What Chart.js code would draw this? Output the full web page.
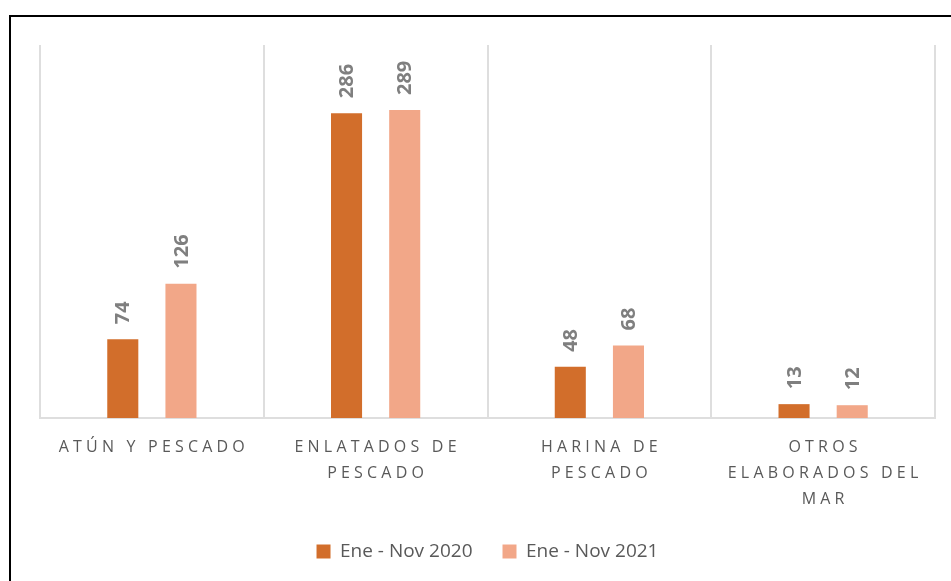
<!DOCTYPE html>
<html>
<head>
  <meta charset="utf-8">
  <title>Exportaciones</title>
  <script src="https://cdn.jsdelivr.net/npm/chart.js"></script>
  <style>
    body { margin: 0; background: #fff; }
    #frame { position: absolute; left: 9px; top: 15px; width: 960px; height: 600px;
             border-left: 2px solid #000; border-top: 2px solid #000; }
    #chart { position: absolute; left: 0; top: 0; }
  </style>
</head>
<body>
  <div id="frame"></div>
  <canvas id="chart" width="951" height="581"></canvas>

  <script>

const categories = [
  ['ATÚN Y PESCADO'],
  ['ENLATADOS DE', 'PESCADO'],
  ['HARINA DE', 'PESCADO'],
  ['OTROS', 'ELABORADOS DEL', 'MAR']
];
const series2020 = [74, 286, 48, 13];
const series2021 = [126, 289, 68, 12];
const seriesNames = ['Ene - Nov 2020', 'Ene - Nov 2021'];

// category labels drawn letter-spaced at the x scale tick positions
const spacedTicks = {
  id: 'spacedTicks',
  afterDraw(chart) {
    const ctx = chart.ctx;
    const xs = chart.scales.x;
    ctx.save();
    ctx.letterSpacing = '4.2px';
    ctx.font = '16px "Open Sans"';
    ctx.fillStyle = '#595959';
    ctx.textAlign = 'center';
    ctx.textBaseline = 'middle';
    categories.forEach((lines, i) => {
      const x = xs.getPixelForTick(i) + 2;
      lines.forEach((t, k) => ctx.fillText(t, x, chart.chartArea.bottom + 29 + k * 26));
    });
    ctx.restore();
  }
};

// rotated value labels above bars
const valueLabels = {
  id: 'valueLabels',
  afterDatasetsDraw(chart) {
    const ctx = chart.ctx;
    chart.data.datasets.forEach((ds, i) => {
      chart.getDatasetMeta(i).data.forEach((bar, j) => {
        ctx.save();
        ctx.translate(bar.x, bar.y - 15);
        ctx.rotate(-Math.PI / 2);
        ctx.font = 'bold 20px "Open Sans"';
        ctx.fillStyle = '#7f7f7f';
        ctx.textAlign = 'left';
        ctx.textBaseline = 'middle';
        ctx.fillText(ds.data[j], 0, 1);
        ctx.restore();
      });
    });
  }
};

new Chart(document.getElementById('chart'), {
  type: 'bar',
  data: {
    labels: categories,
    datasets: [
      { label: seriesNames[0], data: series2020, backgroundColor: '#d26e2b' },
      { label: seriesNames[1], data: series2021, backgroundColor: '#f2a788' }
    ]
  },
  options: {
    responsive: false,
    animation: false,
    devicePixelRatio: 1,
    categoryPercentage: 0.52,
    barPercentage: 0.534,
    layout: { padding: { left: 40, right: 16, top: 45, bottom: 10 } },
    scales: {
      x: {
        grid: { offset: true, color: '#dedede', lineWidth: 2, drawTicks: false },
        border: { color: '#dedede', width: 2 },
        ticks: {
          color: 'rgba(0,0,0,0)',
          padding: 8,
          maxRotation: 0,
          autoSkip: false,
          font: { family: '"Open Sans"', size: 16, lineHeight: '26px' }
        }
      },
      y: { display: false, min: 0, max: 350 }
    },
    plugins: {
      tooltip: { enabled: false },
      legend: {
        position: 'bottom',
        labels: {
          color: '#595959',
          boxWidth: 14,
          boxHeight: 14,
          padding: 30,
          font: { family: '"Open Sans"', size: 19 }
        }
      }
    }
  },
  plugins: [spacedTicks, valueLabels]
});
  </script>
</body>
</html>
